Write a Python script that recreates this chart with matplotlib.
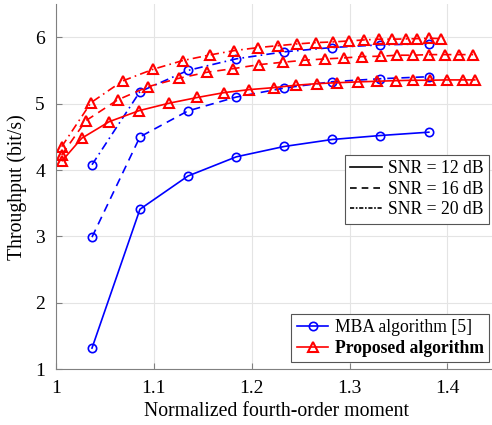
import numpy as np
import matplotlib
matplotlib.use('Agg')
import matplotlib.pyplot as plt
from matplotlib.lines import Line2D

plt.rcParams['font.family'] = ['Liberation Serif', 'DejaVu Serif']
plt.rcParams['mathtext.fontset'] = 'stix'

# MBA algorithm [5], same x for all SNRs
x_mba = [1.0368, 1.0858, 1.1348, 1.1844, 1.2332, 1.2822, 1.3315, 1.3810]
mba_12 = [1.32, 3.41, 3.91, 4.20, 4.355, 4.46, 4.52, 4.57]
mba_16 = [2.99, 4.50, 4.89, 5.10, 5.235, 5.33, 5.375, 5.405]
mba_20 = [4.08, 5.18, 5.50, 5.675, 5.78, 5.845, 5.885, 5.90]

# proposed algorithm
x_p12 = [1.0064, 1.0263, 1.0545, 1.0851, 1.1154, 1.1446, 1.1719, 1.1974, 1.2227, 1.2451,
         1.2669, 1.2875, 1.3088, 1.3282, 1.3470, 1.3650, 1.3820, 1.3991, 1.4160, 1.4280]
p_12 = [4.142, 4.479, 4.729, 4.895, 5.006, 5.093, 5.166, 5.211, 5.241, 5.277,
        5.301, 5.315, 5.327, 5.337, 5.346, 5.352, 5.352, 5.357, 5.357, 5.357]
x_p16 = [1.0058, 1.0306, 1.0630, 1.0943, 1.1259, 1.1545, 1.1811, 1.2077, 1.2316, 1.2543,
         1.2748, 1.2942, 1.3129, 1.3317, 1.3490, 1.3650, 1.3810, 1.3973, 1.4120, 1.4263]
p_16 = [4.227, 4.744, 5.056, 5.256, 5.383, 5.473, 5.527, 5.587, 5.623, 5.654,
        5.673, 5.688, 5.708, 5.714, 5.729, 5.729, 5.738, 5.738, 5.738, 5.738]
x_p20 = [1.0058, 1.0358, 1.0681, 1.0994, 1.1294, 1.1573, 1.1821, 1.2060, 1.2271, 1.2465,
         1.2656, 1.2833, 1.2996, 1.3149, 1.3299, 1.3435, 1.3572, 1.3694, 1.3813, 1.3932]
p_20 = [4.352, 5.015, 5.342, 5.518, 5.648, 5.733, 5.798, 5.843, 5.873, 5.899,
        5.919, 5.929, 5.944, 5.959, 5.970, 5.970, 5.974, 5.979, 5.985, 5.979]

fig = plt.figure(figsize=(4.92, 4.25), dpi=100)
ax = fig.add_axes([0.1138, 0.131, 0.895, 0.8596])

lw = 1.2
blue = (0, 0, 1)
red = (1, 0, 0)
dash = (5, 3.5)
dashdot = (5, 2.5, 1, 2.5)
mk_b = dict(marker='o', markersize=6, markerfacecolor='none', markeredgewidth=1.2)
mk_r = dict(marker='^', markersize=7, markerfacecolor='none', markeredgewidth=1.5)

ax.plot(x_mba, mba_12, '-', color=blue, lw=lw, **mk_b)
ax.plot(x_mba, mba_16, color=blue, lw=lw, dashes=dash, **mk_b)
ax.plot(x_mba, mba_20, color=blue, lw=lw, dashes=dashdot, **mk_b)
ax.plot(x_p12, p_12, '-', color=red, lw=lw, **mk_r)
ax.plot(x_p16, p_16, color=red, lw=lw, dashes=dash, **mk_r)
ax.plot(x_p20, p_20, color=red, lw=lw, dashes=dashdot, **mk_r)

ax.set_xlim(1, 1.45)
ax.set_ylim(1, 6.5)
ax.set_xticks([1, 1.1, 1.2, 1.3, 1.4])
ax.set_xticklabels(['1', '1.1', '1.2', '1.3', '1.4'])
ax.set_yticks([1, 2, 3, 4, 5, 6])
ax.grid(True, color='#e4e4e4', lw=0.8)
ax.set_axisbelow(True)
for s in ['top', 'right']:
    ax.spines[s].set_visible(False)
for s in ['left', 'bottom']:
    ax.spines[s].set_color('#808080')
ax.tick_params(direction='in', length=4, color='#808080', labelsize=14, pad=8)
ax.set_xlabel('Normalized fourth-order moment', fontsize=14.2, labelpad=3)
ax.set_ylabel('Throughput (bit/s)', fontsize=14.2, labelpad=6)

snr_handles = [Line2D([], [], color='k', ls='-', lw=lw),
               Line2D([], [], color='k', lw=lw, dashes=(4, 3)),
               Line2D([], [], color='k', lw=lw, dashes=(2.5, 1, 1, 1))]
leg1 = ax.legend(snr_handles, ['SNR = 12 dB', 'SNR = 16 dB', 'SNR = 20 dB'],
                 loc='upper right', bbox_to_anchor=(0.983, 0.587), fontsize=12.7,
                 fancybox=False, framealpha=1, edgecolor='#555555',
                 handlelength=1.8, handletextpad=0.35, borderpad=0.3, labelspacing=0.2,
                 borderaxespad=0)
leg1.get_frame().set_linewidth(0.8)
ax.add_artist(leg1)

alg_handles = [Line2D([], [], color=blue, ls='-', lw=lw, **mk_b),
               Line2D([], [], color=red, ls='-', lw=lw, **mk_r)]
leg2 = ax.legend(alg_handles, ['MBA algorithm [5]', 'Proposed algorithm'],
                 loc='lower right', bbox_to_anchor=(0.983, 0.02), fontsize=12.7,
                 fancybox=False, framealpha=1, edgecolor='#555555',
                 handlelength=1.8, handletextpad=0.35, borderpad=0.3, labelspacing=0.2,
                 borderaxespad=0)
leg2.get_frame().set_linewidth(0.8)
leg2.get_texts()[1].set_fontweight('bold')

fig.savefig('out.png', dpi=100)
